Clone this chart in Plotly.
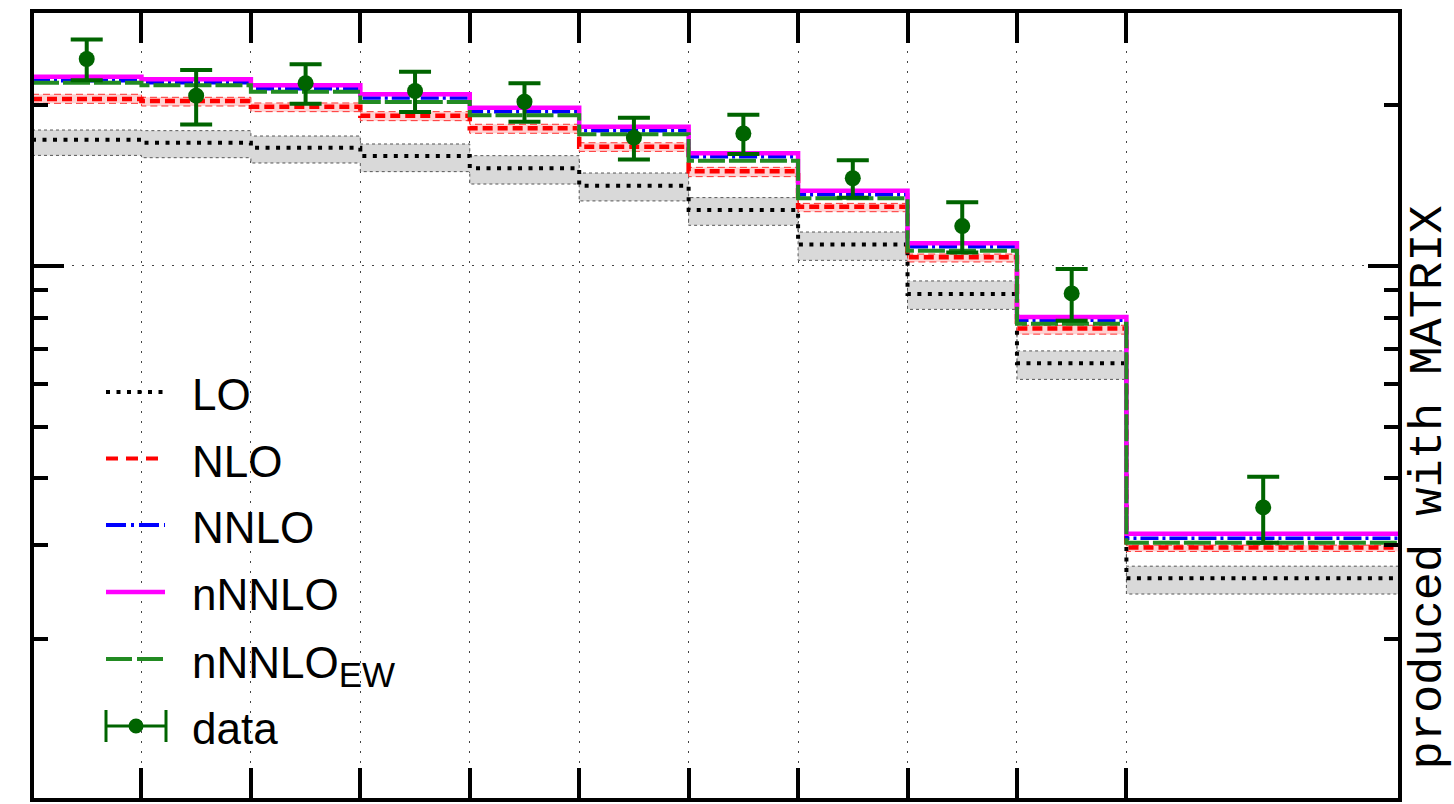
import math
import plotly.graph_objects as go

# Bin edges (last bin is 2.5 units wide)
edges = [0, 1, 2, 3, 4, 5, 6, 7, 8, 9, 10, 12.5]

# Central predictions per bin
lo = [1.722, 1.700, 1.664, 1.606, 1.523, 1.413, 1.272, 1.097, 0.886, 0.657, 0.260]
lo_up = [1.796, 1.791, 1.750, 1.691, 1.608, 1.492, 1.342, 1.157, 0.937, 0.693, 0.274]
lo_dn = [1.610, 1.594, 1.558, 1.501, 1.423, 1.323, 1.191, 1.024, 0.829, 0.613, 0.243]

nlo = [2.053, 2.035, 1.986, 1.910, 1.809, 1.671, 1.503, 1.290, 1.038, 0.763, 0.297]
nlo_up = [2.095, 2.068, 2.018, 1.944, 1.841, 1.700, 1.529, 1.309, 1.052, 0.774, 0.300]
nlo_dn = [2.015, 1.992, 1.944, 1.870, 1.771, 1.638, 1.469, 1.263, 1.017, 0.745, 0.292]

nnlo = [2.221, 2.202, 2.146, 2.062, 1.944, 1.791, 1.601, 1.359, 1.086, 0.791, 0.309]
nnnlo = [2.260, 2.235, 2.178, 2.095, 1.977, 1.822, 1.624, 1.383, 1.102, 0.802, 0.315]
nnnlo_ew = [2.202, 2.178, 2.118, 2.027, 1.914, 1.763, 1.573, 1.338, 1.067, 0.779, 0.303]

# Measurement
data = [2.439, 2.083, 2.198, 2.125, 2.029, 1.738, 1.769, 1.459, 1.187, 0.888, 0.353]
data_err = [0.214, 0.243, 0.186, 0.184, 0.168, 0.156, 0.150, 0.118, 0.128, 0.099, 0.050]

legend_labels = ["LO", "NLO", "NNLO", "nNNLO",
                 "nNNLO<sub><span style=\"font-size:35px\">EW</span></sub>", "data"]

centers = [(a + b) / 2 for a, b in zip(edges[:-1], edges[1:])]


def step(vals):
    return vals + [vals[-1]]


fig = go.Figure()

# Scale-uncertainty bands
fig.add_trace(go.Scatter(x=edges, y=step(lo_dn), mode="lines", line_shape="hv",
                         line=dict(color="#555555", width=1, dash="3px,3px")))
fig.add_trace(go.Scatter(x=edges, y=step(lo_up), mode="lines", line_shape="hv",
                         line=dict(color="#555555", width=1, dash="3px,3px"),
                         fill="tonexty", fillcolor="#d9d9d9"))
fig.add_trace(go.Scatter(x=edges, y=step(nlo_dn), mode="lines", line_shape="hv",
                         line=dict(color="#ff3030", width=1, dash="7px,4px")))
fig.add_trace(go.Scatter(x=edges, y=step(nlo_up), mode="lines", line_shape="hv",
                         line=dict(color="#ff3030", width=1, dash="7px,4px"),
                         fill="tonexty", fillcolor="#ffd2d2"))

# Central curves
fig.add_trace(go.Scatter(x=edges, y=step(lo), mode="lines", line_shape="hv",
                         line=dict(color="black", width=4, dash="4px,6.5px")))
fig.add_trace(go.Scatter(x=edges, y=step(nlo), mode="lines", line_shape="hv",
                         line=dict(color="#ff0000", width=4.5, dash="10px,5px")))
fig.add_trace(go.Scatter(x=edges, y=step(nnlo), mode="lines", line_shape="hv",
                         line=dict(color="#0000ff", width=3.5, dash="18px,4px,3px,4px")))
fig.add_trace(go.Scatter(x=edges, y=step(nnnlo), mode="lines", line_shape="hv",
                         line=dict(color="#ff00ff", width=4.5)))
fig.add_trace(go.Scatter(x=edges, y=step(nnnlo_ew), mode="lines", line_shape="hv",
                         line=dict(color="#228b22", width=4, dash="27px,4px")))

# Data points
fig.add_trace(go.Scatter(x=centers, y=data, mode="markers",
                         marker=dict(color="#006400", size=16),
                         error_y=dict(type="data", array=data_err, visible=True,
                                      color="#006400", thickness=4, width=16)))

# Plot-area pixel geometry
L, R, T, B = 32, 1400, 11, 800


def px(x):
    return (x - L) / (R - L)


def py(y):
    return (B - y) / (B - T)


shapes = []
annotations = []

# Frame
shapes.append(dict(type="rect", xref="paper", yref="paper", x0=0, x1=1, y0=0, y1=1,
                   line=dict(color="black", width=4), layer="above"))

# Legend
leg_y = [392, 458.5, 525, 592, 659, 726]
x0, x1 = 106, 165
line_styles = [
    dict(color="black", width=4, dash="4px,6.5px"),
    dict(color="#ff0000", width=4, dash="12px,8px"),
    dict(color="#0000ff", width=4, dash="20px,5px,3px,5px"),
    dict(color="#ff00ff", width=4.5),
    dict(color="#228b22", width=4, dash="26px,5px"),
]
for yy, st in zip(leg_y[:5], line_styles):
    shapes.append(dict(type="line", xref="paper", yref="paper",
                       x0=px(x0), x1=px(x1), y0=py(yy), y1=py(yy), line=st))
# data symbol
yd = leg_y[5]
dg = "#006400"
shapes.append(dict(type="line", xref="paper", yref="paper", x0=px(106), x1=px(166),
                   y0=py(yd), y1=py(yd), line=dict(color=dg, width=3)))
for xc in (106, 166):
    shapes.append(dict(type="line", xref="paper", yref="paper", x0=px(xc), x1=px(xc),
                       y0=py(yd - 16), y1=py(yd + 16), line=dict(color=dg, width=3)))
shapes.append(dict(type="circle", xref="paper", yref="paper",
                   x0=px(136 - 7.5), x1=px(136 + 7.5), y0=py(yd + 7.5), y1=py(yd - 7.5),
                   fillcolor=dg, line=dict(color=dg, width=0)))

for yy, t in zip(leg_y, legend_labels):
    off = 2.5 if "sub" not in t else 6.5
    annotations.append(dict(xref="paper", yref="paper", x=px(190), y=py(yy + off),
                            xanchor="left", yanchor="middle", text=t, showarrow=False,
                            font=dict(family="Liberation Sans", size=44, color="black")))

# Side label
annotations.append(dict(xref="paper", yref="paper", x=px(1427.5), y=py(487),
                        xanchor="center", yanchor="middle", textangle=-90,
                        text="produced with MATRIX", showarrow=False,
                        font=dict(family="Liberation Mono", size=47, color="black")))

fig.update_layout(
    width=1454, height=804,
    margin=dict(l=L, r=1454 - R, t=T, b=804 - B),
    plot_bgcolor="white", paper_bgcolor="white",
    showlegend=False,
    shapes=shapes, annotations=annotations,
    xaxis=dict(range=[edges[0], edges[-1]], tickmode="array", tickvals=edges[1:-1],
               ticks="inside", ticklen=32, tickwidth=4, tickcolor="black",
               showticklabels=False, showline=False, mirror="ticks", zeroline=False,
               showgrid=True, gridcolor="#444444", gridwidth=1, griddash="2px,8px"),
    yaxis=dict(type="log", range=[-1, math.log10(3)], tickmode="array", tickvals=[1],
               ticks="inside", ticklen=32, tickwidth=4, tickcolor="black",
               showticklabels=False, showline=False, mirror="ticks", zeroline=False,
               showgrid=True, gridcolor="#444444", gridwidth=1, griddash="2px,8px",
               minor=dict(tickmode="array",
                          tickvals=[0.2, 0.3, 0.4, 0.5, 0.6, 0.7, 0.8, 0.9, 2],
                          ticks="inside", ticklen=16, tickwidth=4, tickcolor="black",
                          showgrid=False)),
)

fig.write_html("out.html")
